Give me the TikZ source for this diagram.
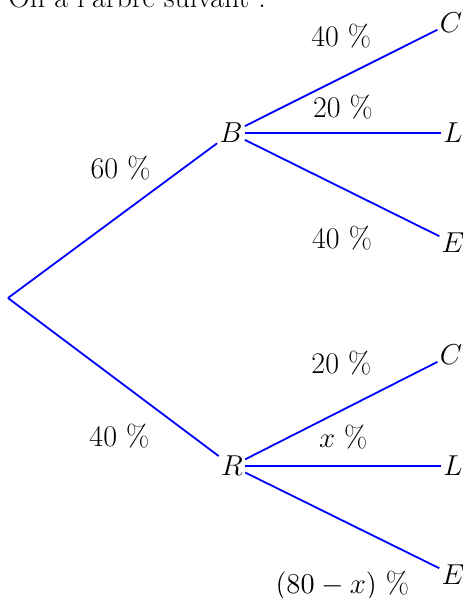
\documentclass[tikz,border=0pt]{standalone}
\begin{document}
\begin{tikzpicture}[x=0.5pt, y=-0.5pt, every node/.style={inner sep=1pt}, font=\fontsize{15}{18}\selectfont, branche/.style={blue, line width=0.9pt}, proba/.style={midway, text=black}]
        \useasboundingbox (0,0) rectangle (467,598);
        \node[anchor=base west] (titre) at (6,8) {On a l'arbre suivant :};
        \coordinate (O) at (8,298);
        \node (B) at (231,133) {$B$};
        \node (R) at (232,466) {$R$};
        \node (BC) at (451,23) {$C$};
        \node (BL) at (453,133) {$L$};
        \node (BE) at (453,243) {$E$};
        \node (RC) at (451,355) {$C$};
        \node (RL) at (453,466) {$L$};
        \node (RE) at (453,575) {$E$};
        \draw[branche] (O) -- node[proba, xshift=4pt, yshift=26.5pt] (pB) {60 \%} (B);
        \draw[branche] (O) -- node[proba, xshift=3pt, yshift=-29.5pt] (pR) {40 \%} (R);
        \draw[branche] (B) -- node[proba, yshift=21pt] (pBC) {40 \%} (BC);
        \draw[branche] (B) -- node[proba, yshift=13pt] (pBL) {20 \%} (BL);
        \draw[branche] (B) -- node[proba, yshift=-25pt] (pBE) {40 \%} (BE);
        \draw[branche] (R) -- node[proba, yshift=23.5pt] (pRC) {20 \%} (RC);
        \draw[branche] (R) -- node[proba, yshift=14.5pt] (pRL) {$x$ \%} (RL);
        \draw[branche] (R) -- node[proba, yshift=-32.5pt] (pRE) {$(80-x)$ \%} (RE);
    \end{tikzpicture}
\end{document}
